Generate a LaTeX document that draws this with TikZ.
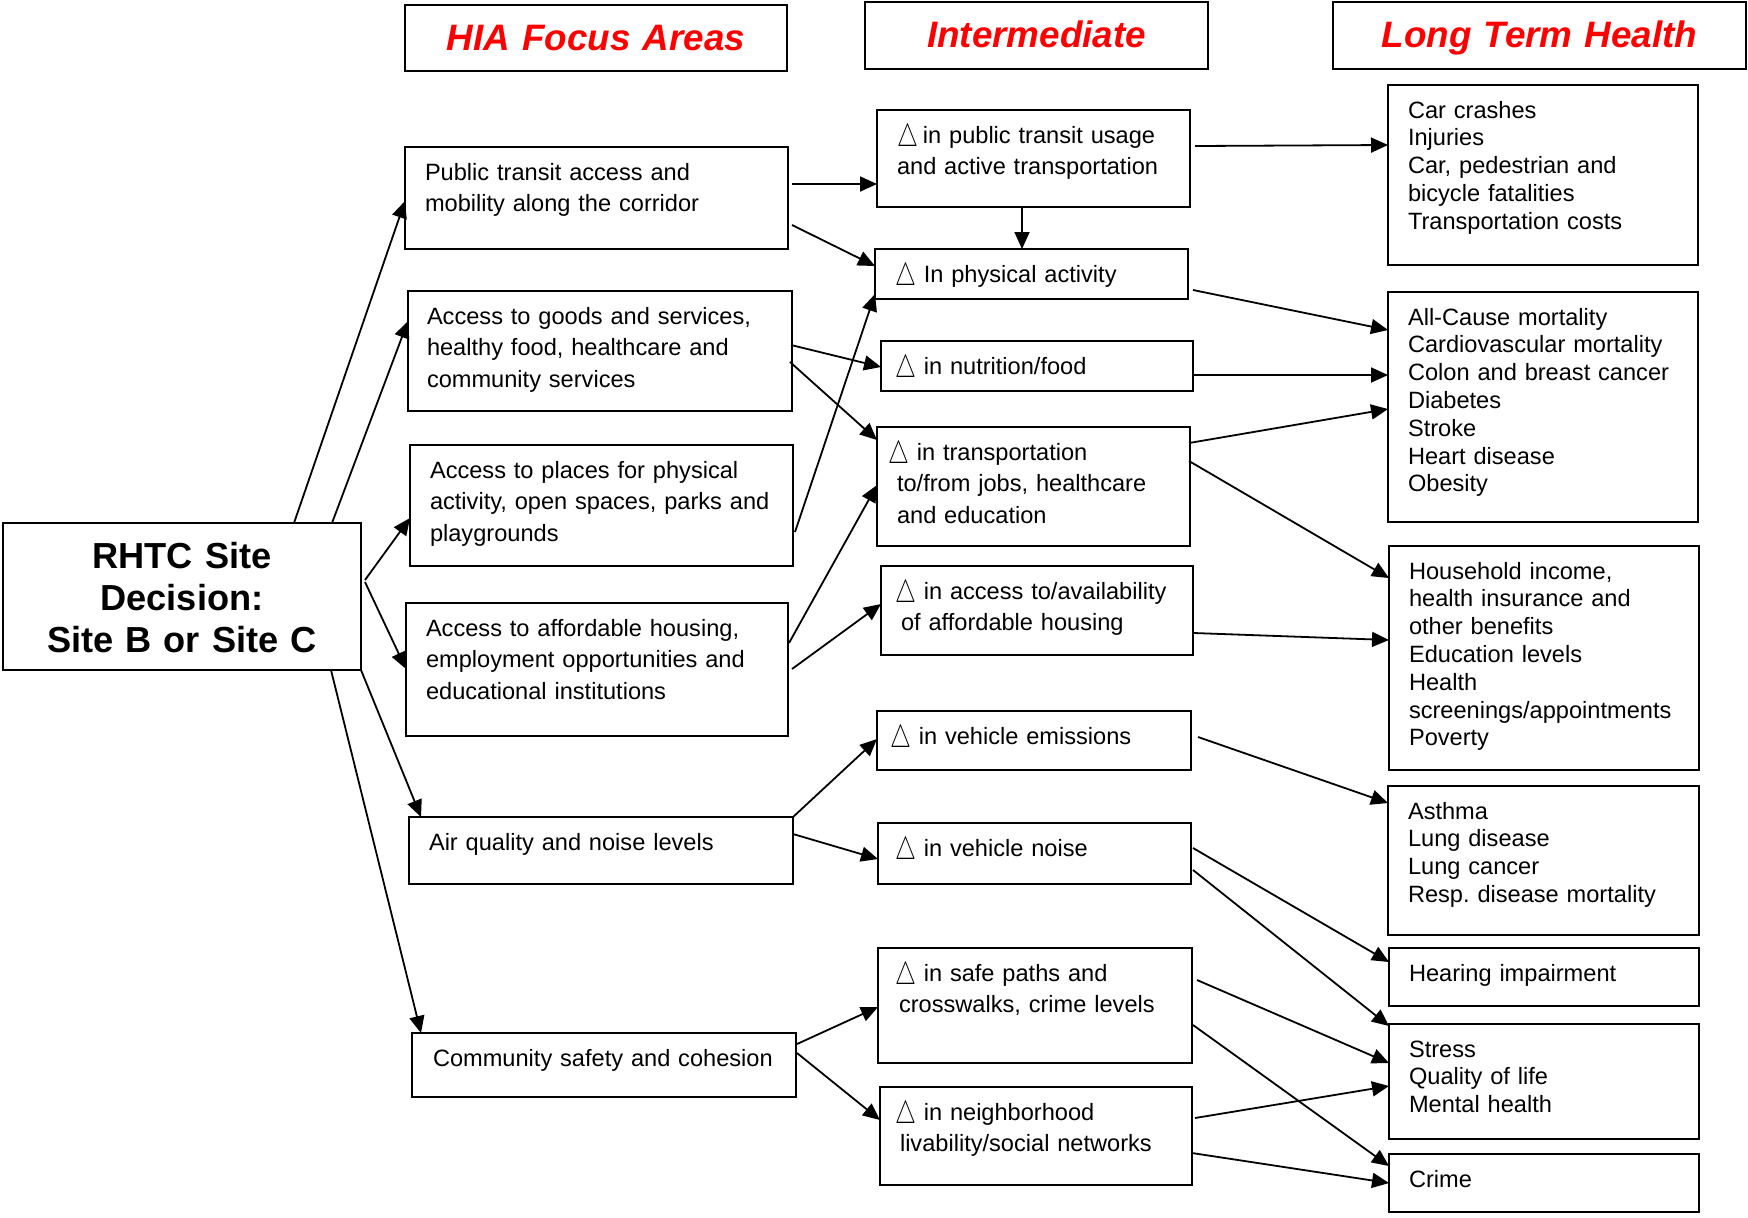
\documentclass[tikz,border=0pt]{standalone}
\usepackage{fontspec}
\usepackage{graphicx}
\setmainfont{Liberation Sans}
\usetikzlibrary{arrows.meta}
\newcommand\dl{\raisebox{-1.5pt}{\scalebox{0.98}[1.33]{$\triangle$}}}
\begin{document}
\begin{tikzpicture}[x=0.5pt,y=-0.5pt,
  box/.style={draw, line width=1pt, anchor=north west, inner sep=0pt, outer sep=0pt, align=left, text height=16.5pt, font=\fontsize{11.8}{15.8}\selectfont},
  bx/.style n args={3}{box, text width=#1pt, text depth=#2pt, execute at begin node={\leftskip=#3pt\relax}},
  lx/.style n args={3}{bx={#1}{#2}{#3}, font=\fontsize{11.8}{13.9}\selectfont},
  ttl/.style={draw, line width=1.3pt, anchor=north west, inner sep=0pt, outer sep=0pt, align=center, text height=22.5pt, text=red, font=\fontsize{18.4}{22}\selectfont\bfseries\itshape},
  arr/.style={line width=0.9pt, -{Triangle[length=8.5pt,width=7.5pt]}}
]
\useasboundingbox (0,0) rectangle (1748,1217);
% titles
\node[ttl, text width=191pt, text depth=10.5pt] (T1) at (405,5) {HIA Focus Areas};
\node[ttl, text width=171.5pt, text depth=11pt] (T2) at (865,2) {Intermediate};
\node[ttl, text width=206.5pt, text depth=11pt] (T3) at (1333,2) {Long Term Health};
% decision
\node[draw, line width=1.2pt, anchor=north west, inner sep=0pt, outer sep=0pt, align=center, text width=179pt, text height=22.5pt, text depth=51pt, font=\fontsize{18.1}{21.2}\selectfont\bfseries] (R) at (3,523) {RHTC Site\\Decision:\\Site B or Site C};
% focus areas
\node[bx={191.5}{34.5}{10}] (F1) at (405,147) {Public transit access and\\mobility along the corridor};
\node[bx={192}{43.5}{9.5}] (F2) at (408,291) {Access to goods and services,\\healthy food, healthcare and\\community services};
\node[bx={191.5}{44}{10}] (F3) at (410,445) {Access to places for physical\\activity, open spaces, parks and\\playgrounds};
\node[bx={191}{50}{10}] (F4) at (406,603) {Access to affordable housing,\\employment opportunities and\\educational institutions};
\node[bx={192}{17}{10}] (F5) at (409,817) {Air quality and noise levels};
\node[bx={192}{15.5}{10.5}] (F6) at (412,1033) {Community safety and cohesion};
% intermediate
\node[bx={156.5}{32}{10}] (I1) at (877,110) {\dl\hspace{2.5pt}in public transit usage\\and active transportation};
\node[bx={156.5}{8.5}{10}] (I2) at (875,249) {\dl{} In physical activity};
\node[bx={156}{8.5}{7}] (I3) at (881,341) {\dl{} in nutrition/food};
\node[bx={156.5}{43}{10}] (I4) at (877,427) {\hspace*{-4.5pt}\dl{} in transportation\\to/from jobs, healthcare\\and education};
\node[bx={156}{28}{10}] (I5) at (881,566) {\hspace*{-3pt}\dl{} in access to/availability\\of affordable housing};
\node[bx={157}{13}{6.5}] (I6) at (877,711) {\dl{} in vehicle emissions};
\node[bx={156.5}{14}{8.5}] (I7) at (878,823) {\dl{} in vehicle noise};
\node[bx={157}{41}{10.5}] (I8) at (878,948) {\hspace*{-2pt}\dl{} in safe paths and\\crosswalks, crime levels};
\node[bx={156}{32.5}{10}] (I9) at (880,1087) {\hspace*{-2.5pt}\dl{} in neighborhood\\livability/social networks};
% long term
\node[lx={155}{73.5}{10}] (L1) at (1388,85) {Car crashes\\Injuries\\Car, pedestrian and\\bicycle fatalities\\Transportation costs};
\node[lx={155}{98.5}{10}] (L2) at (1388,292) {All-Cause mortality\\Cardiovascular mortality\\Colon and breast cancer\\Diabetes\\Stroke\\Heart disease\\Obesity};
\node[lx={155}{95.5}{10}] (L3) at (1389,546) {Household income,\\health insurance and\\other benefits\\Education levels\\Health\\screenings/appointments\\Poverty};
\node[lx={155.5}{58}{10}] (L4) at (1388,786) {Asthma\\Lung disease\\Lung cancer\\Resp.\ disease mortality};
\node[lx={155}{12.5}{10}] (L5) at (1389,948) {Hearing impairment};
\node[lx={155}{41}{10}] (L6) at (1389,1024) {Stress\\Quality of life\\Mental health};
\node[lx={155}{12.5}{10}] (L7) at (1389,1154) {Crime};
% arrows from decision
\draw[arr] ([shift={(291,0)}]R.north west) -- ([shift={(0,54)}]F1.north west);
\draw[arr] ([shift={(329,0)}]R.north west) -- ([shift={(0,30)}]F2.north west);
\draw[arr] ([shift={(4,57)}]R.north east) -- ([shift={(0,73)}]F3.north west);
\draw[arr] ([shift={(4,59)}]R.north east) -- ([shift={(0,66)}]F4.north west);
\draw[arr] (R.south east) -- ([shift={(12,0)}]F5.north west);
\draw[arr] ([shift={(328,0)}]R.south west) -- ([shift={(9,0)}]F6.north west);
% focus -> intermediate
\draw[arr] ([shift={(4,37)}]F1.north east) -- ([shift={(0,74)}]I1.north west);
\draw[arr] ([shift={(4,78)}]F1.north east) -- ([shift={(0,17)}]I2.north west);
\draw[arr] ([shift={(-1,54)}]F2.north east) -- ([shift={(0,26)}]I3.north west);
\draw[arr] ([shift={(-2,71)}]F2.north east) -- ([shift={(0,13)}]I4.north west);
\draw[arr] ([shift={(2,87)}]F3.north east) -- ([shift={(0,45)}]I2.north west);
\draw[arr] ([shift={(1,40)}]F4.north east) -- ([shift={(0,58)}]I4.north west);
\draw[arr] ([shift={(4,66)}]F4.north east) -- ([shift={(0,38)}]I5.north west);
\draw[arr] (F5.north east) -- ([shift={(0,28)}]I6.north west);
\draw[arr] ([shift={(0,17)}]F5.north east) -- ([shift={(0,36)}]I7.north west);
\draw[arr] ([shift={(1,11)}]F6.north east) -- ([shift={(0,59)}]I8.north west);
\draw[arr] ([shift={(1,20)}]F6.north east) -- ([shift={(0,33)}]I9.north west);
\draw[arr] ([shift={(145,0)}]I1.south west) -- ([shift={(147,0)}]I2.north west);
% intermediate -> long term
\draw[arr] ([shift={(5,36)}]I1.north east) -- ([shift={(0,60)}]L1.north west);
\draw[arr] ([shift={(5,41)}]I2.north east) -- ([shift={(0,38)}]L2.north west);
\draw[arr] ([shift={(1,34)}]I3.north east) -- ([shift={(0,83)}]L2.north west);
\draw[arr] ([shift={(-1,16)}]I4.north east) -- ([shift={(0,117)}]L2.north west);
\draw[arr] ([shift={(-1,34)}]I4.north east) -- ([shift={(0,32)}]L3.north west);
\draw[arr] ([shift={(1,67)}]I5.north east) -- ([shift={(0,94)}]L3.north west);
\draw[arr] ([shift={(7,26)}]I6.north east) -- ([shift={(0,17)}]L4.north west);
\draw[arr] ([shift={(2,25)}]I7.north east) -- ([shift={(0,14)}]L5.north west);
\draw[arr] ([shift={(2,47)}]I7.north east) -- ([shift={(0,2)}]L6.north west);
\draw[arr] ([shift={(5,32)}]I8.north east) -- ([shift={(0,39)}]L6.north west);
\draw[arr] ([shift={(1,77)}]I8.north east) -- ([shift={(0,12)}]L7.north west);
\draw[arr] ([shift={(3,31)}]I9.north east) -- ([shift={(0,62)}]L6.north west);
\draw[arr] ([shift={(0,66)}]I9.north east) -- ([shift={(0,29)}]L7.north west);
\end{tikzpicture}
\end{document}
